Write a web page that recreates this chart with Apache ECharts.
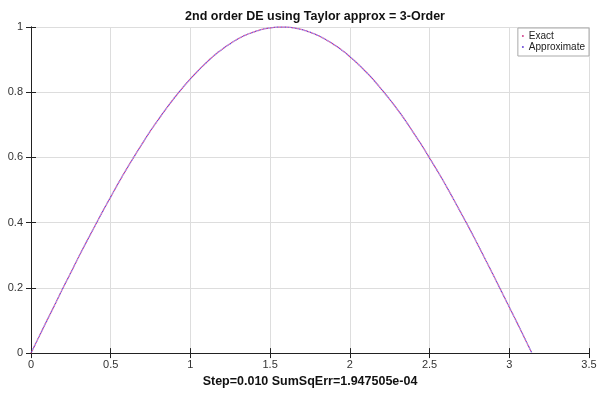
<!DOCTYPE html>
<html>
<head>
<meta charset="utf-8">
<script src="https://cdn.jsdelivr.net/npm/echarts@6/dist/echarts.min.js"></script>
<style>
  html, body { margin: 0; padding: 0; background: #fff; }
  #chart { width: 600px; height: 393px; }
</style>
</head>
<body>
<div id="chart"></div>
<script>
// x positions (step 0.05, last point at the end of the curve)
var xs = [0, 0.05, 0.10, 0.15, 0.20, 0.25, 0.30, 0.35, 0.40, 0.45,
    0.50, 0.55, 0.60, 0.65, 0.70, 0.75, 0.80, 0.85, 0.90, 0.95,
    1.00, 1.05, 1.10, 1.15, 1.20, 1.25, 1.30, 1.35, 1.40, 1.45,
    1.50, 1.55, 1.60, 1.65, 1.70, 1.75, 1.80, 1.85, 1.90, 1.95,
    2.00, 2.05, 2.10, 2.15, 2.20, 2.25, 2.30, 2.35, 2.40, 2.45,
    2.50, 2.55, 2.60, 2.65, 2.70, 2.75, 2.80, 2.85, 2.90, 2.95,
    3.00, 3.05, 3.10, 3.14];
var exactY = [0, 0.050, 0.100, 0.149, 0.199, 0.247, 0.296, 0.343, 0.389, 0.435,
    0.479, 0.523, 0.565, 0.605, 0.644, 0.682, 0.717, 0.751, 0.783, 0.813,
    0.841, 0.867, 0.891, 0.913, 0.932, 0.949, 0.964, 0.976, 0.985, 0.993,
    0.997, 1.000, 1.000, 0.997, 0.992, 0.984, 0.974, 0.961, 0.946, 0.929,
    0.909, 0.887, 0.863, 0.837, 0.808, 0.778, 0.746, 0.712, 0.675, 0.638,
    0.598, 0.558, 0.516, 0.472, 0.427, 0.382, 0.335, 0.287, 0.239, 0.190,
    0.141, 0.092, 0.042, 0.002];
// approximation is indistinguishable from the exact curve at this scale
var approxY = [0, 0.050, 0.100, 0.149, 0.199, 0.247, 0.296, 0.343, 0.389, 0.435,
    0.479, 0.523, 0.565, 0.605, 0.644, 0.682, 0.717, 0.751, 0.783, 0.813,
    0.841, 0.867, 0.891, 0.913, 0.932, 0.949, 0.964, 0.976, 0.985, 0.993,
    0.997, 1.000, 1.000, 0.997, 0.992, 0.984, 0.974, 0.961, 0.946, 0.929,
    0.909, 0.887, 0.863, 0.837, 0.808, 0.778, 0.746, 0.712, 0.675, 0.638,
    0.598, 0.558, 0.516, 0.472, 0.427, 0.382, 0.335, 0.287, 0.239, 0.190,
    0.141, 0.092, 0.042, 0.002];

function pairs(x, y) {
    var out = [];
    for (var i = 0; i < x.length; i++) out.push([x[i], y[i]]);
    return out;
}

var chart = echarts.init(document.getElementById('chart'));
var font = 'Liberation Sans, Arial, sans-serif';
var boxAxis = {
    axisLine: {show: true, lineStyle: {color: '#222', width: 1}},
    axisTick: {show: true, inside: true, length: 5, lineStyle: {color: '#222'}},
    axisLabel: {show: false},
    splitLine: {show: false}
};

var option = {
    animation: false,
    backgroundColor: '#fff',
    title: {
        text: '2nd order DE using Taylor approx = 3-Order',
        left: 310,
        textAlign: 'center',
        top: 5,
        textStyle: {fontFamily: font, fontSize: 12.5, fontWeight: 'bold', color: '#111'}
    },
    legend: {
        orient: 'vertical',
        right: 11,
        top: 28,
        icon: 'circle',
        itemWidth: 2,
        itemHeight: 2,
        itemGap: 1,
        padding: [3, 4, 4, 4],
        borderColor: '#aaa',
        borderWidth: 1,
        backgroundColor: '#fff',
        textStyle: {fontFamily: font, fontSize: 10, color: '#222'},
        data: ['Exact', 'Approximate']
    },
    grid: {left: 31, right: 11, top: 27, bottom: 36},
    xAxis: [{
        type: 'value',
        min: 0, max: 3.5, interval: 0.5,
        name: 'Step=0.010 SumSqErr=1.947505e-04',
        nameLocation: 'middle',
        nameGap: 19,
        nameTextStyle: {fontFamily: font, fontSize: 12.5, fontWeight: 'bold', color: '#111'},
        axisLine: {show: true, onZero: false, lineStyle: {color: '#222'}},
        axisTick: {show: true, inside: true, length: 5, lineStyle: {color: '#222'}},
        axisLabel: {fontFamily: font, fontSize: 11, color: '#333', margin: 6},
        splitLine: {show: true, lineStyle: {color: '#ddd'}}
    }, Object.assign({type: 'value', position: 'top', min: 0, max: 3.5, interval: 0.5}, boxAxis)],
    yAxis: [{
        type: 'value',
        min: 0, max: 1, interval: 0.2,
        axisLine: {show: true, onZero: false, lineStyle: {color: '#222'}},
        axisTick: {show: true, inside: true, length: 5, lineStyle: {color: '#222'}},
        axisLabel: {fontFamily: font, fontSize: 11, color: '#333', margin: 8},
        splitLine: {show: true, lineStyle: {color: '#ddd'}}
    }, Object.assign({type: 'value', position: 'right', min: 0, max: 1, interval: 0.2}, boxAxis)],
    series: [
        {
            name: 'Exact',
            type: 'line',
            data: pairs(xs, exactY),
            smooth: true,
            showSymbol: false,
            itemStyle: {color: '#d2408c'},
            lineStyle: {color: '#d2408c', width: 1.3, type: [1.2, 1.6]}
        },
        {
            name: 'Approximate',
            type: 'line',
            data: pairs(xs, approxY),
            smooth: true,
            showSymbol: false,
            itemStyle: {color: '#6a48d8'},
            lineStyle: {color: '#6a48d8', width: 1.3, type: [1.2, 1.6], dashOffset: 1.4}
        }
    ]
};
chart.setOption(option);
</script>
</body>
</html>
